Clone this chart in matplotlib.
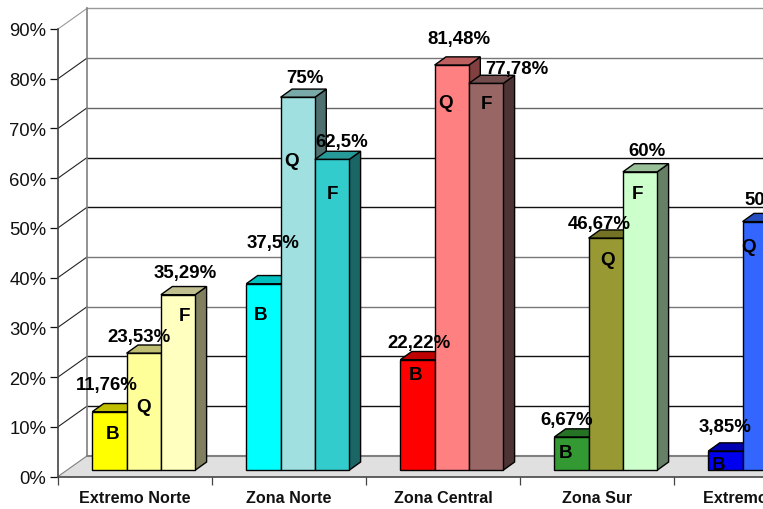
import numpy as np
import matplotlib
matplotlib.use('Agg')
import matplotlib.pyplot as plt

plt.rcParams['font.family'] = ['Liberation Sans', 'DejaVu Sans']

categories = ['Extremo Norte', 'Zona Norte', 'Zona Central', 'Zona Sur', 'Extremo Sur']
series_names = ['B', 'Q', 'F']
values_b = [11.76, 37.5, 22.22, 6.67, 3.85]
values_q = [23.53, 75, 81.48, 46.67, 50]
values_f = [35.29, 62.5, 77.78, 60, np.nan]  # last one is cut off in the picture
labels_b = ['11,76%', '37,5%', '22,22%', '6,67%', '3,85%']
labels_q = ['23,53%', '75%', '81,48%', '46,67%', '50%']
labels_f = ['35,29%', '62,5%', '77,78%', '60%', '']
yticks = [0, 10, 20, 30, 40, 50, 60, 70, 80, 90]

# colours
colors_b = ['#FFFF00', '#00FFFF', '#FF0000', '#339933', '#0000EE']
colors_q = ['#FFFF99', '#A0E0E0', '#FF8080', '#999933', '#3366FF']
colors_f = ['#FFFFC0', '#33CCCC', '#996666', '#CCFFCC', '#CCCCCC']
grid_colors = ['#808080', '#111111', '#111111', '#777777', '#777777',
               '#111111', '#111111', '#666666', '#777777', '#999999']

# hand placed label offsets in pixels, from the top centre of the bar front
value_off_b = [(-2.5, 22), (9.5, 36), (1.2, 11.6), (-5.2, 12.3), (-0.7, 19)]
value_off_q = [(-5, 11.4), (7.5, 14), (7, 20.8), (-7, 9.3), (3.9, 16.7)]
value_off_f = [(6.9, 16.6), (9.4, 11.8), (30.9, 9.2), (6.9, 16), (0, 0)]
letter_off_b = [(3.5, -27), (-2.8, -36.8), (-1.5, -20.8), (-5.8, -21.4), (-6.8, -19)]
letter_off_q = [(-0.3, -58.6), (-5.8, -68.6), (-6.3, -43.2), (1.4, -27.4), (-10.8, -30.3)]
letter_off_f = [(6.4, -26.1), (0.2, -39.8), (0.7, -25.5), (-2.9, -27), (0, 0)]
text_lift = 1.2  # px, all bar texts sit this much higher

W, H = 763, 510
X0, Y0, Y90 = 58, 477.5, 30
PX_X = 154.0             # pixels per category
PX_Y = (Y0 - Y90) / 90.  # pixels per percent

bar_w = 34.3 / PX_X
wall_dx, wall_dy = 29 / PX_X, 20.6 / PX_Y    # depth of the floor
bar_dx, bar_dy = 11.4 / PX_X, 8.2 / PX_Y     # depth of a bar
base_dy = 6.3 / PX_Y                         # bars stand a bit behind the front edge
first = (92.3 - X0) / PX_X

fig = plt.figure(figsize=(W / 100., H / 100.), dpi=100)
ax = fig.add_axes([X0 / W, (H - Y0) / H, 1 - X0 / W, (Y0 - Y90) / H])
ax.set_xlim(0, (W - X0) / PX_X)
ax.set_ylim(0, 90)
ax.patch.set_visible(False)

xmax = ax.get_xlim()[1]

# floor
ax.fill([0, wall_dx, xmax, xmax], [0, wall_dy, wall_dy, 0], color='#E0E0E0', lw=0,
        zorder=1, clip_on=False)

# side wall and back wall lines
for v, c in zip(yticks, grid_colors):
    ax.plot([wall_dx, xmax], [v + wall_dy, v + wall_dy], color=c, lw=1.0 if v else 1.5,
            zorder=2, clip_on=False)
    side = c if v in (0, 90) else '#222222'
    ax.plot([0, wall_dx], [v, v + wall_dy], color=side, lw=0.8, zorder=2, clip_on=False)
ax.plot([wall_dx, wall_dx], [wall_dy, 90 + wall_dy], color='#808080', lw=1.2, zorder=2,
        clip_on=False)


def shade(color, f):
    r, g, b = matplotlib.colors.to_rgb(color)
    return (r * f, g * f, b * f)


all_values = [values_b, values_q, values_f]
all_colors = [colors_b, colors_q, colors_f]
all_labels = [labels_b, labels_q, labels_f]
all_value_off = [value_off_b, value_off_q, value_off_f]
all_letter_off = [letter_off_b, letter_off_q, letter_off_f]

z = 3
for k in range(len(categories)):
    for s in range(3):
        v = all_values[s][k]
        if np.isnan(v):
            continue
        col = all_colors[s][k]
        left = k + first + s * bar_w
        right = left + bar_w
        top = v + base_dy
        # side and top faces first, then the front from bar()
        ax.fill([right, right + bar_dx, right + bar_dx, right],
                [base_dy, base_dy + bar_dy, top + bar_dy, top],
                facecolor=shade(col, 0.5), edgecolor='black', lw=1, zorder=z)
        ax.fill([left, left + bar_dx, right + bar_dx, right],
                [top, top + bar_dy, top + bar_dy, top],
                facecolor=shade(col, 0.75), edgecolor='black', lw=1, zorder=z)
        ax.bar(left, v, bar_w, bottom=base_dy, align='edge', color=col, edgecolor='black',
               lw=1, zorder=z + 1)
        z += 2

# texts go on top of every bar
for k in range(len(categories)):
    for s in range(3):
        v = all_values[s][k]
        if np.isnan(v):
            continue
        xc = k + first + (s + 0.5) * bar_w
        top = v + base_dy
        dx, dy = all_value_off[s][k]
        ax.annotate(all_labels[s][k], (xc, top), xytext=(dx * 0.72, (dy + text_lift) * 0.72),
                    textcoords='offset points', ha='center', va='baseline',
                    fontsize=13.4, fontweight='bold', color='black', zorder=200,
                    annotation_clip=False)
        dx, dy = all_letter_off[s][k]
        ax.annotate(series_names[s], (xc, top), xytext=(dx * 0.72, (dy + text_lift) * 0.72),
                    textcoords='offset points', ha='center', va='baseline',
                    fontsize=13.6, fontweight='bold', color='black', zorder=200,
                    annotation_clip=False)

# axes
for sp in ['top', 'right']:
    ax.spines[sp].set_visible(False)
for sp in ['left', 'bottom']:
    ax.spines[sp].set_color('#444444')
    ax.spines[sp].set_linewidth(1.2)
    ax.spines[sp].set_zorder(150)

ax.set_yticks(yticks)
ax.set_yticklabels(['%d%%' % v for v in yticks], fontsize=13.3, color='#111111')
ax.tick_params(axis='y', length=5.5, width=0.9, color='#111111', pad=3)

ax.set_xticks(np.arange(len(categories)))
ax.set_xticklabels([])
ax.tick_params(axis='x', which='major', length=5.5, width=0.9, color='#444444')
ax.set_xticks(np.arange(len(categories)) + 0.5, minor=True)
ax.set_xticklabels(categories, minor=True, fontsize=11.6, fontweight='bold', color='#111111')
ax.tick_params(axis='x', which='minor', length=0, pad=9.5)

fig.savefig('out.png', dpi=100)
